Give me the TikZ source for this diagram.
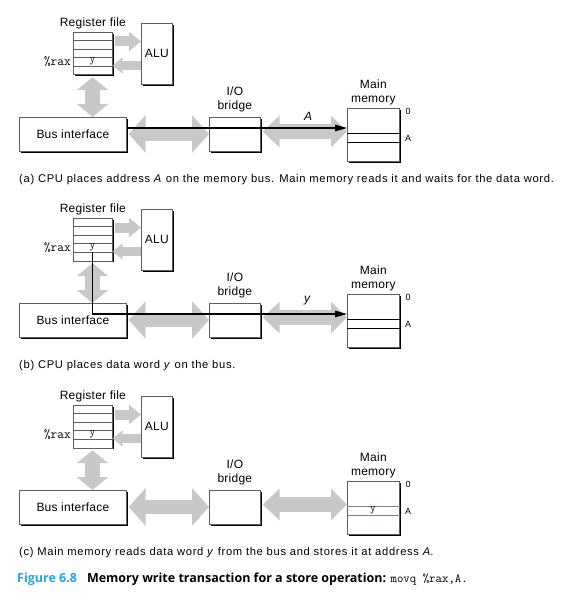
\documentclass[tikz,border=0pt]{standalone}
\usepackage{fontspec}
\setmainfont{Liberation Sans}
\newfontfamily\captfont[LetterSpace=6]{Liberation Sans}
\newfontfamily\lblfont[LetterSpace=2]{Liberation Sans}
\newfontfamily\capfont{Open Sans}
\usetikzlibrary{arrows.meta,shadows}
\definecolor{arrowgray}{RGB}{200,200,200}
\definecolor{edgegray}{RGB}{95,95,95}
\definecolor{figblue}{RGB}{30,168,228}
\begin{document}
\begin{tikzpicture}[x=1pt,y=-1pt,
  box/.style={draw=edgegray, line width=0.7pt, fill=white, inner sep=0pt, anchor=north west,
    drop shadow={shadow xshift=1.6pt, shadow yshift=-1.6pt, fill=black, opacity=1}},
  lbl/.style={font=\lblfont\fontsize{12}{13.5}\selectfont, inner sep=0pt, align=center},
  small/.style={font=\fontsize{9}{10}\selectfont, inner sep=0pt},
  rowline/.style={draw=edgegray, line width=0.7pt},
  gbig/.style={draw=arrowgray, line width=14pt,
    {Triangle[width=37pt,length=17pt]}-{Triangle[width=37pt,length=17pt]}},
  gmem/.style={draw=arrowgray, line width=15pt,
    {Triangle[width=31pt,length=17pt]}-{Triangle[width=31pt,length=16pt]}},
  gvert/.style={draw=arrowgray, line width=15pt,
    {Triangle[width=31pt,length=13pt]}-{Triangle[width=31pt,length=13pt]}},
  gright/.style={draw=arrowgray, line width=10pt, -{Triangle[width=19pt,length=12pt]}},
  gleft/.style={draw=arrowgray, line width=9pt, -{Triangle[width=16pt,length=10pt]}},
  dataline/.style={draw=black, line width=1.1pt, -{Triangle[width=6.5pt,length=12pt]}},
  caption/.style={font=\captfont\fontsize{11.2}{12}\selectfont, anchor=base west, inner sep=0pt},
  regtt/.style={font=\ttfamily\fontsize{11}{12}\selectfont, text=black!70!blue, inner sep=0.5pt},
  pics/panel/.style={code={
    % levels
    \coordinate (y1) at (0,41.5);
    \coordinate (y2) at (0,65.5);
    \coordinate (yb) at (0,134);
    \coordinate (ym) at (0,131.5);
    \coordinate (bl) at (0,128);
    \coordinate (vx) at (92.5,0);
    % boxes
    \node[box, minimum width=39pt, minimum height=42.5pt] (reg) at (73,32) {};
    \foreach \k in {1,2,3,4}
      \draw[rowline] ([yshift=-8.5*\k pt]reg.north west) -- ([yshift=-8.5*\k pt]reg.north east);
    \node[lbl, anchor=south] (reglbl) at ([yshift=3pt]reg.north) {Register file};
    \node[font=\ttfamily\fontsize{13}{14}\selectfont, anchor=east, inner sep=0pt] (rax) at (71,61.5) {\%rax};
    \node[regtt] (ry) at (92.5,61.2) {y};
    \node[box, minimum width=31pt, minimum height=61pt, lbl] (alu) at (141,23) {ALU};
    \node[box, minimum width=107pt, minimum height=34pt, lbl] (bus) at (19,117) {Bus interface};
    \node[box, minimum width=51pt, minimum height=34pt] (bridge) at (209,117) {};
    \node[lbl, anchor=south] (bridgelbl) at ([yshift=5pt]bridge.north) {I/O\\bridge};
    \node[box, minimum width=52pt, minimum height=53pt] (mem) at (347,108) {};
    \draw[draw=#1, line width=0.7pt] ([yshift=-25pt]mem.north west) -- ([yshift=-25pt]mem.north east);
    \draw[draw=#1, line width=0.7pt] ([yshift=-34pt]mem.north west) -- ([yshift=-34pt]mem.north east);
    \node[lbl, anchor=south] (memlbl) at ([yshift=3pt]mem.north) {Main\\memory};
    \node[small] (zero) at (408,111.5) {0};
    \node[small] (addr) at (408,138) {A};
    % gray arrows
    \draw[gright, shorten <=2pt] (reg.east |- y1) -- (alu.west |- y1);
    \draw[gleft] (alu.west |- y2) -- (reg.east |- y2);
    \draw[gvert, shorten <=2pt] (reg.south -| vx) -- (bus.north -| vx);
    \draw[gbig, shorten <=2pt] (bus.east |- yb) -- (bridge.west |- yb);
    \draw[gmem, shorten <=2pt] (bridge.east |- ym) -- (mem.west |- ym);
  }}
]
\useasboundingbox (0,0) rectangle (570,607);

% ---------- panel (a)
\pic (pa-) at (0,0) {panel=black};
\draw[dataline] (pa-bus.east |- pa-bl) -- (pa-mem.west |- pa-bl);
\node[lbl] (pa-A) at (308,116) {\itshape A};
\node[caption] (capa) at (19,182) {(a) CPU places address \textit{A} on the memory bus. Main memory reads it and waits for the data word.};

% ---------- panel (b)
\pic (pb-) at (0,186) {panel=black};
\draw[dataline] (pb-ry.south) |- (pb-mem.west |- pb-bl);
\node[lbl] (pb-y) at (307,301) {\itshape y};
\node[caption] (capb) at (19,368) {(b) CPU places data word \textit{y} on the bus.};

% ---------- panel (c)
\pic (pc-) at (0,373) {panel=edgegray!80};
\node[regtt] (pc-my) at (373,510.2) {y};
\node[caption] (capc) at (19,555) {(c) Main memory reads data word \textit{y} from the bus and stores it at address \textit{A}.};

% ---------- figure caption
\node[font=\capfont\bfseries\fontsize{12.5}{14}\selectfont, anchor=base west, inner sep=0pt] (fig) at (17,582)
  {\textcolor{figblue}{Figure 6.8}\hspace{10pt}Memory write transaction for a store operation: {\mdseries\ttfamily movq \%rax,A.}};
\end{tikzpicture}
\end{document}
